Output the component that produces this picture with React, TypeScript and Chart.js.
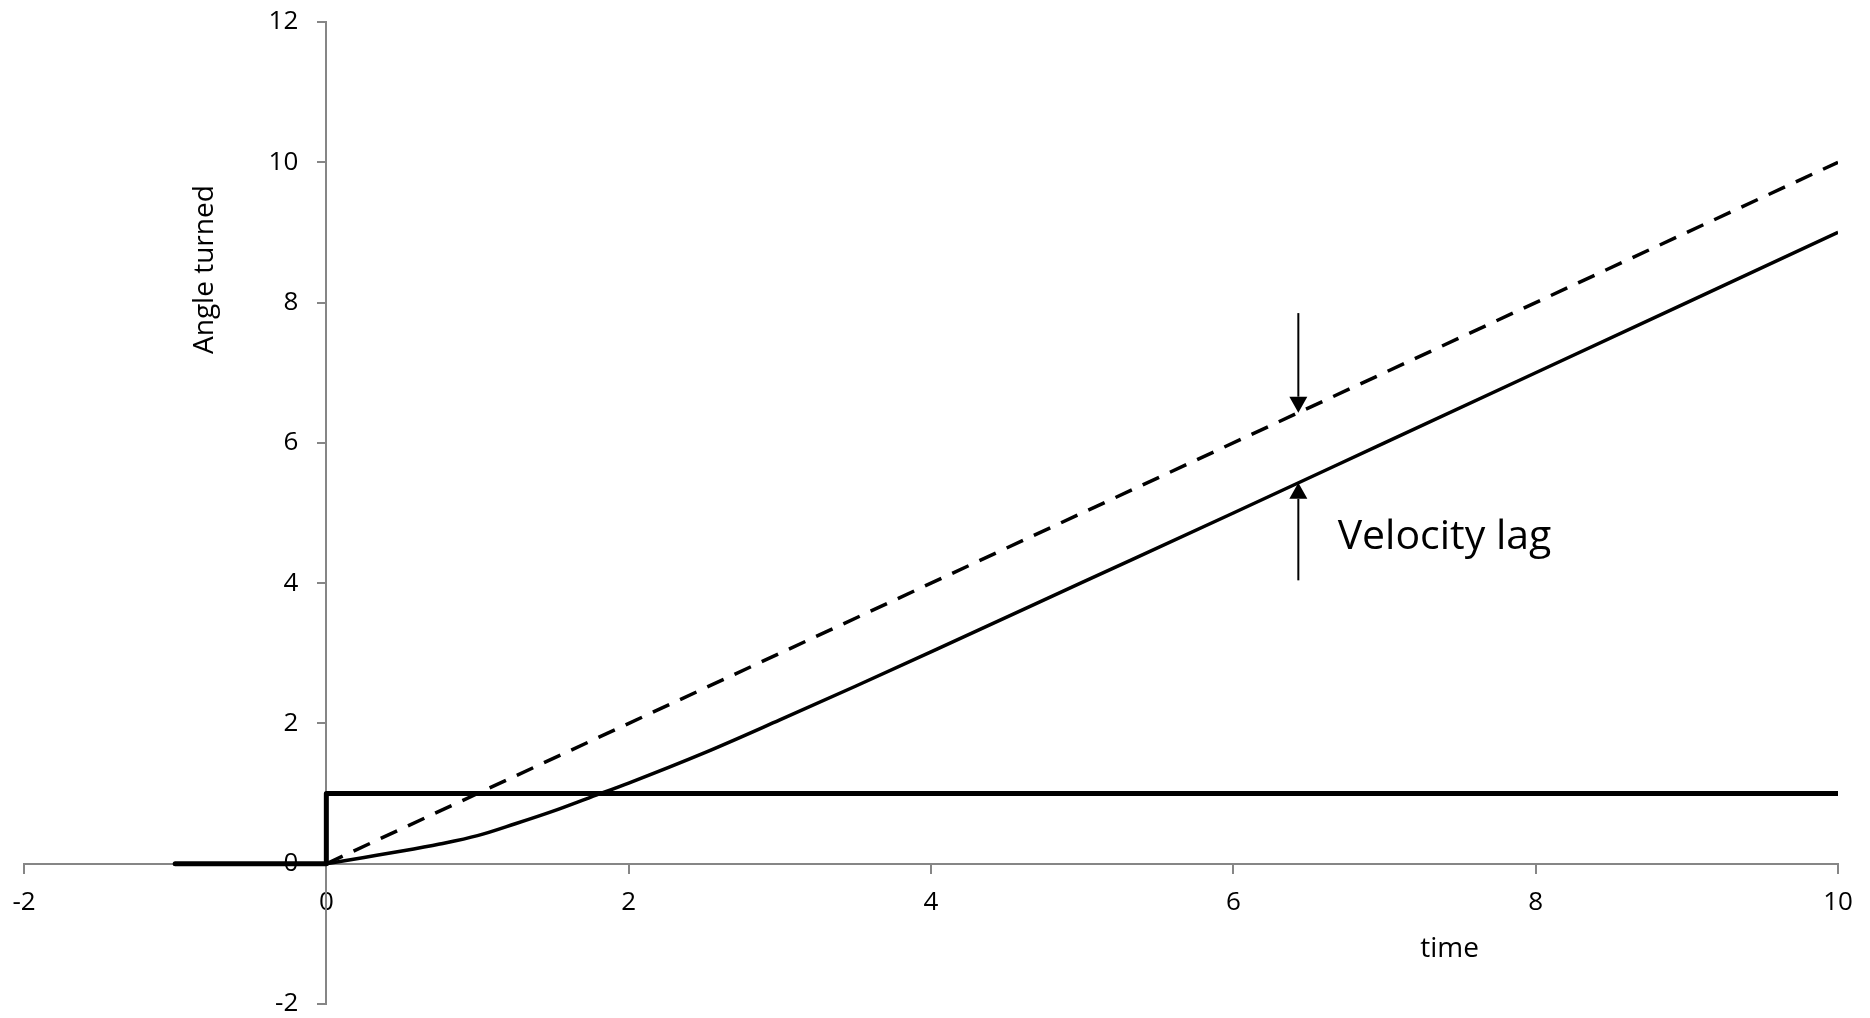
import React, { useEffect, useRef } from "react";
import { Chart, registerables } from "chart.js";

Chart.register(...registerables);

// ---- data ----
const stepX = [-1, 0, 0, 10];
const stepY = [0, 0, 1, 1];
const rampX = [0, 10];
const rampY = [0, 10];
const respX = [0, 0.25, 0.5, 0.75, 1, 1.25, 1.5, 1.75, 2, 2.5, 3, 3.5, 4, 5, 6, 7, 8, 9, 10];
const respY = [0, 0.09, 0.18, 0.28, 0.4, 0.57, 0.75, 0.95, 1.15, 1.58, 2.05, 2.53, 3.02, 4.01, 5.0, 6.0, 7.0, 8.0, 9.0];

const xTicks = [-2, 0, 2, 4, 6, 8, 10];
const yTicks = [-2, 0, 2, 4, 6, 8, 10, 12];

// annotation (in data units)
const lagX = 6.43;
const arrowDown = [7.85, 6.43]; // from, tip
const arrowUp = [4.04, 5.43]; // from, tip
const lagLabel = "Velocity lag";
const lagLabelPos = [6.69, 4.48];
const xTitle = "time";
const xTitlePos = [7.43, -1.33];
const yTitle = "Angle turned";
const yTitlePos = [-0.752, 8.47];

const FONT = "'Open Sans'";
const AXIS_COLOR = "#868686";

const toPts = (xs: number[], ys: number[]) => xs.map((v, i) => ({ x: v, y: ys[i] }));

function drawArrow(ctx: CanvasRenderingContext2D, px: number, from: number, tip: number) {
  const dir = tip > from ? 1 : -1;
  const headLen = 16;
  const headHalf = 9;
  ctx.beginPath();
  ctx.moveTo(px, from);
  ctx.lineTo(px, tip - dir * headLen);
  ctx.lineWidth = 2;
  ctx.strokeStyle = "#000";
  ctx.stroke();
  ctx.beginPath();
  ctx.moveTo(px, tip);
  ctx.lineTo(px - headHalf, tip - dir * headLen);
  ctx.lineTo(px + headHalf, tip - dir * headLen);
  ctx.closePath();
  ctx.fillStyle = "#000";
  ctx.fill();
}

const yLabels = {
  id: "yLabels",
  beforeDatasetsDraw(chart: any) {
    const { ctx, scales } = chart;
    const x = scales.x;
    const y = scales.y;
    const axisX = x.getPixelForValue(0);
    ctx.save();
    ctx.fillStyle = "#000";
    ctx.font = `26px ${FONT}`;
    ctx.textAlign = "right";
    ctx.textBaseline = "middle";
    y.ticks.forEach((t: any) => {
      ctx.fillText(String(t.value), axisX - 28, y.getPixelForValue(t.value));
    });
    ctx.restore();
  },
};

const overlay = {
  id: "overlay",
  afterDatasetsDraw(chart: any) {
    const { ctx, scales } = chart;
    const x = scales.x;
    const y = scales.y;
    ctx.save();
    const ax = x.getPixelForValue(lagX);
    drawArrow(ctx, ax, y.getPixelForValue(arrowDown[0]), y.getPixelForValue(arrowDown[1]));
    drawArrow(ctx, ax, y.getPixelForValue(arrowUp[0]), y.getPixelForValue(arrowUp[1]));
    ctx.fillStyle = "#000";
    ctx.textBaseline = "alphabetic";
    ctx.textAlign = "left";
    ctx.font = `41px ${FONT}`;
    ctx.fillText(lagLabel, x.getPixelForValue(lagLabelPos[0]), y.getPixelForValue(lagLabelPos[1]));
    ctx.font = `28px ${FONT}`;
    ctx.textAlign = "center";
    ctx.fillText(xTitle, x.getPixelForValue(xTitlePos[0]), y.getPixelForValue(xTitlePos[1]));
    ctx.translate(x.getPixelForValue(yTitlePos[0]), y.getPixelForValue(yTitlePos[1]));
    ctx.rotate(-Math.PI / 2);
    ctx.fillText(yTitle, 0, 0);
    ctx.restore();
  },
};

export default function App() {
  const ref = useRef<HTMLCanvasElement | null>(null);
  useEffect(() => {
    if (!ref.current) return;
    const chart = new Chart(ref.current, {
      type: "scatter",
      data: {
        datasets: [
          {
            data: toPts(rampX, rampY),
            showLine: true,
            borderColor: "#000",
            borderWidth: 3.5,
            borderDash: [18, 12],
            pointRadius: 0,
          },
          {
            data: toPts(respX, respY),
            showLine: true,
            borderColor: "#000",
            borderWidth: 3.5,
            cubicInterpolationMode: "monotone",
            pointRadius: 0,
          },
          {
            data: toPts(stepX, stepY),
            showLine: true,
            borderColor: "#000",
            borderWidth: 5,
            borderCapStyle: "round",
            borderJoinStyle: "round",
            pointRadius: 0,
          },
        ],
      } as any,
      options: {
        animation: false,
        responsive: false,
        events: [],
        layout: { padding: { left: 24, right: 32, top: 22, bottom: 14 } },
        plugins: { legend: { display: false }, tooltip: { enabled: false } },
        scales: {
          x: {
            type: "linear",
            position: { y: 0 } as any,
            min: -2,
            max: 10,
            afterBuildTicks: (s: any) => {
              s.ticks = xTicks.map((v) => ({ value: v }));
            },
            afterFit: (s: any) => {
              s.paddingLeft = 0;
              s.paddingRight = 0;
              s.paddingTop = 0;
              s.paddingBottom = 0;
            },
            ticks: { font: { family: FONT, size: 26 }, color: "#000", padding: 14 },
            grid: { drawOnChartArea: false, drawTicks: true, tickLength: 9, color: AXIS_COLOR, lineWidth: 2 },
            border: { display: true, color: AXIS_COLOR, width: 2 },
          },
          y: {
            type: "linear",
            position: { x: 0 } as any,
            min: -2,
            max: 12,
            afterBuildTicks: (s: any) => {
              s.ticks = yTicks.map((v) => ({ value: v }));
            },
            afterFit: (s: any) => {
              s.paddingLeft = 0;
              s.paddingRight = 0;
              s.paddingTop = 0;
              s.paddingBottom = 0;
            },
            ticks: { display: false },
            grid: { drawOnChartArea: false, drawTicks: true, tickLength: 8, color: AXIS_COLOR, lineWidth: 2 },
            border: { display: true, color: AXIS_COLOR, width: 2 },
          },
        },
      } as any,
      plugins: [yLabels, overlay],
    });
    return () => chart.destroy();
  }, []);
  return (
    <div style={{ position: "absolute", left: 0, top: 0, width: 1870, height: 1018, background: "#fff" }}>
      <canvas ref={ref} width={1870} height={1018} style={{ display: "block" }} />
    </div>
  );
}
